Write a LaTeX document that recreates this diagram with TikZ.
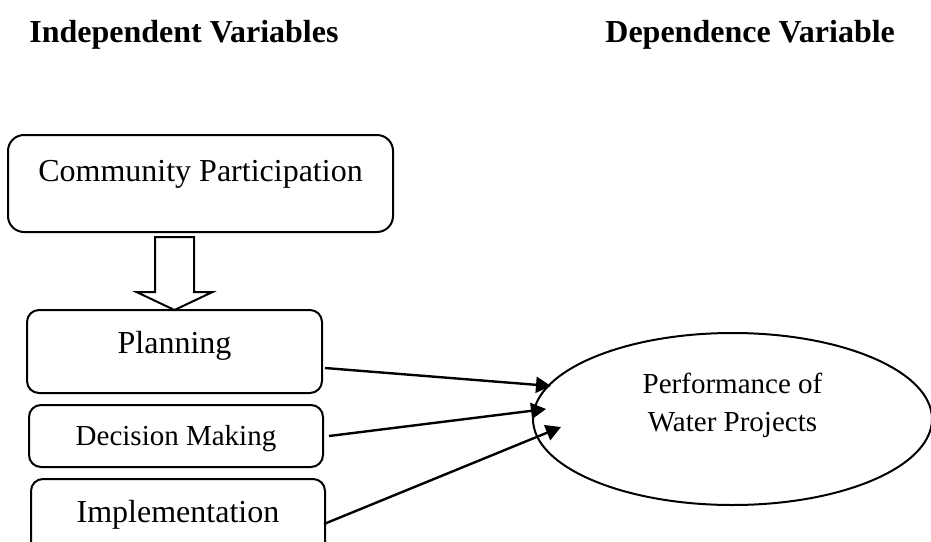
\documentclass[tikz,border=0pt]{standalone}
\usepackage{fontspec}
\setmainfont{Liberation Serif}
\usetikzlibrary{arrows.meta,shapes.geometric,calc}

\begin{document}
\begin{tikzpicture}[x=0.5pt, y=-0.5pt,
	varbox/.style={rectangle, draw=black, line width=1pt, rounded corners=6pt,
		inner sep=0pt, outer sep=0pt, anchor=base, font=\fontsize{16}{19}\selectfont},
	headtxt/.style={anchor=base west, inner sep=0pt, font=\bfseries\fontsize{16}{19}\selectfont},
	link/.style={-{Triangle[length=7.5pt,width=8pt]}, line width=1.2pt}]
	\useasboundingbox (0,0) rectangle (931,541);
	\node[headtxt] (indep) at (29,42) {Independent Variables};
	\node[headtxt] (dep) at (605,42) {Dependence Variable};
	\node[varbox, rounded corners=8pt, minimum width=192.5pt, text height=23pt, text depth=25.5pt] (community) at (200.5,181) {Community Participation};
	\node[varbox, minimum width=147.5pt, text height=21.5pt, text depth=20pt] (planning) at (174.5,353) {Planning};
	\node[varbox, minimum width=147pt, text height=20pt, text depth=11pt, font=\fontsize{14.5}{19}\selectfont] (decision) at (176,445) {Decision Making};
	\node[varbox, minimum width=147pt, text height=21.5pt, text depth=20pt] (implementation) at (178,522) {Implementation};
	\node[ellipse, draw=black, line width=1pt, minimum width=199.5pt, minimum height=86pt, inner sep=0pt,
		align=center, text depth=17pt, font=\fontsize{14.5}{19}\selectfont] (performance) at (732.5,419) {Performance of\\Water Projects};
	% hollow arrow
	\draw[line width=1pt, line join=miter] (planning.north) -- ++(-38,-18) -- ++(18.5,0) -- ++(0,-55)
		-- ++(39,0) -- ++(0,55) -- ++(18.5,0) -- cycle;
	\coordinate (end1) at ($(performance.west)+(19,-33)$);
	\coordinate (end2) at ($(performance.west)+(14,-10)$);
	\coordinate (end3) at ($(performance.west)+(29,8)$);
	\draw[link] ($(planning.east)+(3,16.5)$) -- (end1);
	\draw[link] ($(decision.east)+(6,0)$) -- (end2);
	\draw[link] ($(implementation.east)+(-1,3.5)$) -- (end3);
\end{tikzpicture}
\end{document}
